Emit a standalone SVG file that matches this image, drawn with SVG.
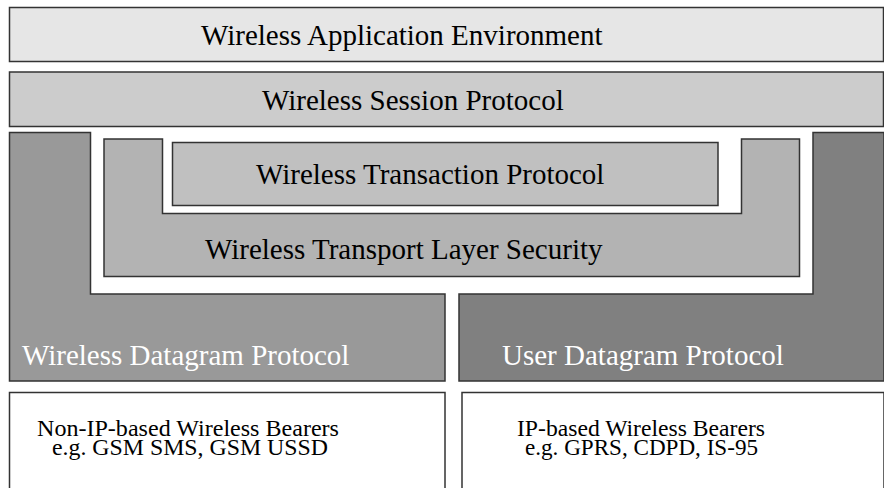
<svg xmlns="http://www.w3.org/2000/svg" width="884" height="488" viewBox="0 0 884 488">
<style>
.box{stroke:#333;stroke-width:1.5}
text{font-family:'Liberation Serif','Times New Roman',serif}
.t{font-size:29px;fill:#000}
.w{fill:#fff}
.s{font-size:23px;fill:#000}
</style>
<rect width="884" height="488" fill="#fff"/>
<g id="wae">
<rect class="box" x="9.5" y="7.5" width="874" height="54" fill="#e6e6e6"/>
<text class="t" x="201" y="45">Wireless Application Environment</text>
</g>
<g id="wsp">
<rect class="box" x="9.5" y="72" width="874" height="54.5" fill="#cccccc"/>
<text class="t" x="262" y="110">Wireless Session Protocol</text>
</g>
<g id="wdp">
<polygon class="box" points="9.5,132.5 90.5,132.5 90.5,294 445,294 445,381 9.5,381" fill="#999999"/>
<text class="t w" x="22" y="365">Wireless Datagram Protocol</text>
</g>
<g id="udp">
<polygon class="box" points="459,294 813,294 813,132.5 884,132.5 884,381 459,381" fill="#808080"/>
<text class="t w" x="502" y="365">User Datagram Protocol</text>
</g>
<g id="wtls">
<polygon class="box" points="104,139 162.5,139 162.5,213.5 741.5,213.5 741.5,139 799.5,139 799.5,276.5 104,276.5" fill="#b3b3b3"/>
<text class="t" x="205" y="259">Wireless Transport Layer Security</text>
</g>
<g id="wtp">
<rect class="box" x="172.5" y="142.5" width="545.5" height="63" fill="#c0c0c0"/>
<text class="t" x="256" y="184">Wireless Transaction Protocol</text>
</g>
<g id="nonip">
<rect class="box" x="9.5" y="392.5" width="435.5" height="100" fill="#fff"/>
<text class="s" x="37" y="436" textLength="302" lengthAdjust="spacingAndGlyphs">Non-IP-based Wireless Bearers</text>
<text class="s" x="52" y="455" textLength="276" lengthAdjust="spacingAndGlyphs">e.g. GSM SMS, GSM USSD</text>
</g>
<g id="ip">
<rect class="box" x="462" y="392.5" width="422" height="100" fill="#fff"/>
<text class="s" x="517" y="436" textLength="248" lengthAdjust="spacingAndGlyphs">IP-based Wireless Bearers</text>
<text class="s" x="525" y="455" textLength="233" lengthAdjust="spacingAndGlyphs">e.g. GPRS, CDPD, IS-95</text>
</g>
<g id="connectors"/>
</svg>
